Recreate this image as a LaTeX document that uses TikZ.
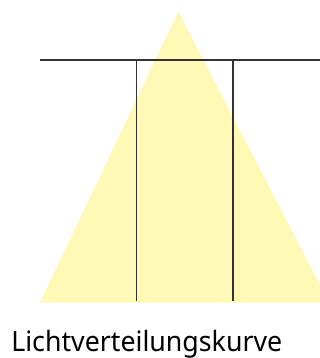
\documentclass[tikz,border=0pt]{standalone}
\usepackage{fontspec}
\newfontfamily\capfont[FakeStretch=0.955]{Noto Sans}
\definecolor{lightyellow}{RGB}{255,249,181}
\definecolor{linegray}{RGB}{51,51,51}
\begin{document}
\begin{tikzpicture}[x=0.75pt,y=-0.75pt,
  rail/.style={draw=linegray,line width=0.9pt},
  caption/.style={anchor=base west,inner sep=0pt,font=\capfont\fontsize{21}{24}\selectfont}]
\useasboundingbox (0,0) rectangle (320,358);
\begin{scope}
\clip (0,0) rectangle (320,358);
\fill[lightyellow] (178.3,11.7) -- (40,302.5) -- (329,302.5) -- cycle;
\end{scope}
\coordinate (hl) at (40,60);
\coordinate (hr) at (320,60);
\coordinate (v1t) at (136.7,60);
\coordinate (v1b) at (136.7,301);
\coordinate (v2t) at (233,60);
\coordinate (v2b) at (233,301);
\draw[rail] (hl) -- (hr);
\draw[rail] (v1t) -- (v1b);
\draw[rail] (v2t) -- (v2b);
\node[caption] (cap) at (11,351.5) {Lichtverteilungskurve};
\end{tikzpicture}
\end{document}
